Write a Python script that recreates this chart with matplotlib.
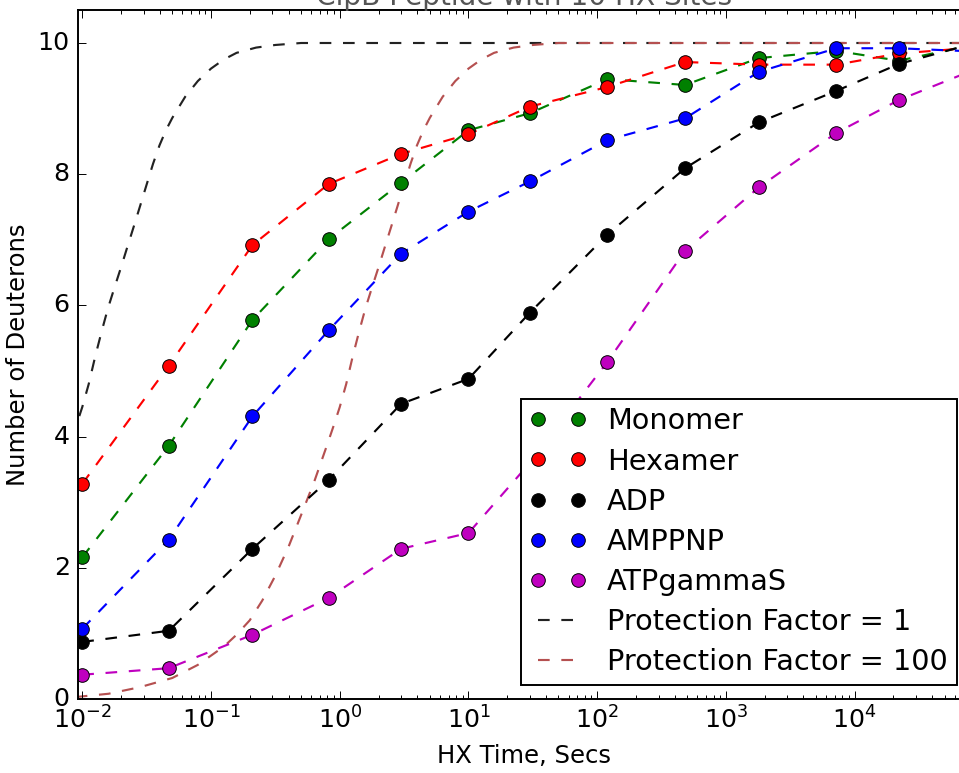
import matplotlib
matplotlib.use("Agg")
import matplotlib.pyplot as plt

# HX time points (s); the last one lies just past the right edge
times = [0.01, 0.047, 0.21, 0.82, 3, 10, 30, 120, 480, 1800, 7200, 22000, 86400]

monomer = [2.16, 3.86, 5.78, 7.01, 7.87, 8.67, 8.93, 9.45, 9.36, 9.77, 9.88, 9.73, 9.98]
hexamer = [3.28, 5.08, 6.92, 7.85, 8.31, 8.61, 9.03, 9.33, 9.71, 9.67, 9.67, 9.84, 9.93]
adp = [0.87, 1.04, 2.29, 3.34, 4.50, 4.88, 5.89, 7.08, 8.09, 8.79, 9.27, 9.68, 10.0]
amppnp = [1.07, 2.43, 4.31, 5.62, 6.79, 7.43, 7.89, 8.52, 8.85, 9.56, 9.92, 9.92, 9.87]
atpgs = [0.37, 0.47, 0.98, 1.54, 2.29, 2.53, 3.6, 5.14, 6.83, 7.80, 8.63, 9.13, 9.6]

series_names = ["Monomer", "Hexamer", "ADP", "AMPPNP", "ATPgammaS"]
series_vals = [monomer, hexamer, adp, amppnp, atpgs]
series_colors = ["g", "r", "k", "b", "m"]

# theoretical curves
pf1_time = [8.9e-5, 1.6e-4, 2.8e-4, 5.0e-4, 7.9e-4, 1.26e-3, 1.58e-3, 2.0e-3,
            2.5e-3, 3.16e-3, 4.0e-3, 5.0e-3, 6.3e-3, 7.9e-3, 8.91e-3, 0.01,
            0.01122, 0.0126, 0.01413, 0.0158, 0.01778, 0.02, 0.02239, 0.0251,
            0.02818, 0.0316, 0.03548, 0.0398, 0.04467, 0.0501, 0.063, 0.079,
            0.1, 0.126, 0.158, 0.2239, 0.316, 0.501, 1e3, 1e5]
pf100_time = [8.9e-3, 0.016, 0.028, 0.05, 0.079, 0.126, 0.158, 0.2,
              0.25, 0.316, 0.4, 0.5, 0.63, 0.79, 0.891, 1.0,
              1.122, 1.26, 1.413, 1.58, 1.778, 2.0, 2.239, 2.51,
              2.818, 3.16, 3.548, 3.98, 4.467, 5.01, 6.3, 7.9,
              10, 12.6, 15.8, 22.39, 31.6, 50.1, 1e5, 1e7]
pf_deut = [0.03, 0.08, 0.18, 0.32, 0.52, 0.80, 0.98, 1.20,
           1.50, 1.88, 2.32, 2.80, 3.30, 3.85, 4.15, 4.45,
           4.80, 5.22, 5.60, 5.95, 6.27, 6.58, 6.89, 7.20,
           7.52, 7.84, 8.16, 8.44, 8.67, 8.86, 9.18, 9.42,
           9.61, 9.75, 9.85, 9.93, 9.97, 10.0, 10.0, 10.0]

plt.style.use("classic")
plt.rcParams["figure.facecolor"] = "white"
plt.rcParams["savefig.facecolor"] = "white"
plt.rcParams["xtick.labelsize"] = 13
plt.rcParams["ytick.labelsize"] = 13
plt.rcParams["axes.labelsize"] = 12.5

fig = plt.figure(figsize=(959 / 140, 773 / 140), dpi=140)
ax = fig.add_axes([77.6 / 959, 74 / 773, (971 - 77.6) / 959, 688.8 / 773])

pf1_line, = ax.plot(pf1_time, pf_deut, "--", color="#222222", lw=1.1,
                    label="Protection Factor = 1")
pf100_line, = ax.plot(pf100_time, pf_deut, "--", color="#b55050", lw=1.1,
                      label="Protection Factor = 100")

handles = []
for name, vals, c in zip(series_names, series_vals, series_colors):
    ax.plot(times, vals, "--", color=c, lw=1.1)
for name, vals, c in zip(series_names, series_vals, series_colors):
    h, = ax.plot(times, vals, "o", color=c, mec="k", ms=7, label=name)
    handles.append(h)
handles += [pf1_line, pf100_line]

ax.set_xscale("log")
ax.set_xlim(0.0092, 8e4)
ax.set_ylim(0, 10.5)
ax.set_yticks([0, 2, 4, 6, 8, 10])
ax.set_xlabel("HX Time, Secs", labelpad=5)
ax.set_ylabel("Number of Deuterons", labelpad=4)
ax.set_title("ClpB Peptide with 10 HX Sites", pad=2.5, color="#555555")
ax.legend(handles=handles, loc="lower right", fontsize=14.8,
          borderpad=0.3, labelspacing=0.42, handletextpad=0.7)

fig.savefig("out.png", dpi=140)
